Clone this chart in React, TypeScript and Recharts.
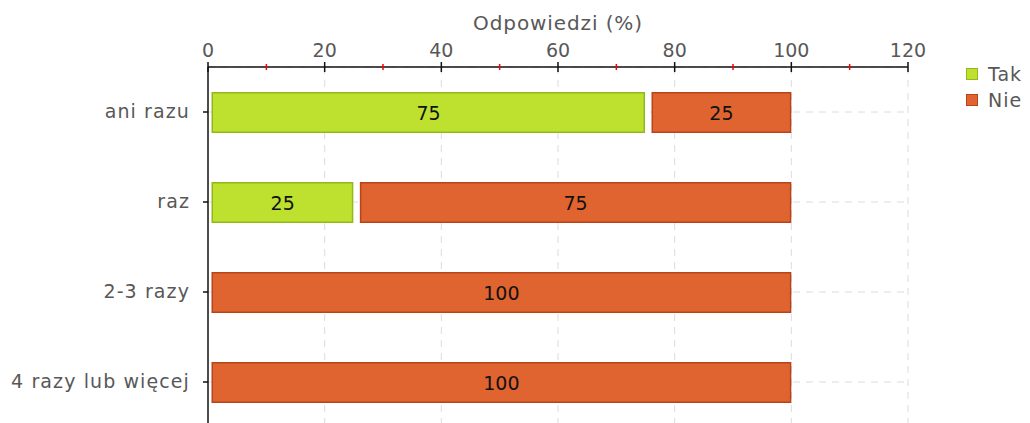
import React from 'react';
import {
  BarChart,
  Bar,
  XAxis,
  YAxis,
  CartesianGrid,
  Legend,
  LabelList
} from 'recharts';

// answers per category, in percent
const categories = ['ani razu', 'raz', '2-3 razy', '4 razy lub więcej'];
const takValues = [75, 25, 0, 0];
const nieValues = [25, 75, 100, 100];
const xTicks = [0, 10, 20, 30, 40, 50, 60, 70, 80, 90, 100, 110, 120];
const gridValues = [20, 40, 60, 80, 100, 120];

const TAK = { fill: '#bde12e', stroke: '#93b81a', name: 'Tak' };
const NIE = { fill: '#e0642f', stroke: '#b8441a', name: 'Nie' };
const TEXT = '#585858';
const FONT = '"DejaVu Sans", Verdana, sans-serif';

const data = categories.map((cat, i) => ({
  cat,
  tak: takValues[i],
  nie: nieValues[i]
}));

// each segment is drawn a little inset from its start so stacked pieces get a gap
const insetFor = (key: string, index: number) => {
  if (key === 'tak') return 3.5;
  return takValues[index] > 0 ? 6 : 3.5;
};

const makeShape = (key: string, color: { fill: string; stroke: string }) => (props: any) => {
  const { x, y, width, height, index } = props;
  if (!width || width <= 0) return null;
  const inset = insetFor(key, index);
  const right = key === 'tak' ? 0.5 : 0;
  return (
    <rect
      x={x + inset + 0.75}
      y={y + 0.75}
      width={Math.max(0, width - inset - right - 1.5)}
      height={height - 1.5}
      fill={color.fill}
      stroke={color.stroke}
      strokeWidth={1.5}
    />
  );
};

const makeLabel = (key: string) => (props: any) => {
  const { x, y, width, height, value, index } = props;
  if (!value) return null;
  const inset = insetFor(key, index);
  const cx = x + inset + (width - inset) / 2;
  return (
    <text
      x={cx}
      y={y + height / 2 + 7}
      textAnchor="middle"
      fontSize={19}
      fontFamily={FONT}
      fill="#111"
    >
      {value}
    </text>
  );
};

const XTick = (props: any) => {
  const { x, y, payload } = props;
  const v = payload.value;
  if (v % 20 !== 0) {
    return <line x1={x} x2={x} y1={y - 3} y2={y + 3} stroke="#ff0000" strokeWidth={1.5} />;
  }
  return (
    <g>
      <line x1={x} x2={x} y1={y - 5} y2={y + 5} stroke="#111" strokeWidth={1.5} />
      <text x={x} y={y - 10} textAnchor="middle" fontSize={19} fontFamily={FONT} fill={TEXT}>
        {v}
      </text>
    </g>
  );
};

const YTick = (props: any) => {
  const { x, y, payload } = props;
  return (
    <text
      x={x}
      y={y + 6}
      textAnchor="end"
      fontSize={19}
      fontFamily={FONT}
      fill={TEXT}
      letterSpacing={1.1}
    >
      {payload.value}
    </text>
  );
};

const AxisTitle = (props: any) => {
  const vb = props.viewBox;
  return (
    <text
      x={vb.x + vb.width / 2}
      y={30}
      textAnchor="middle"
      fontSize={20}
      fontFamily={FONT}
      fill={TEXT}
      letterSpacing={0.9}
    >
      Odpowiedzi (%)
    </text>
  );
};

const LegendBox = () => (
  <div style={{ fontFamily: FONT, fontSize: 19, color: TEXT, letterSpacing: 1 }}>
    {[TAK, NIE].map(s => (
      <div key={s.name} style={{ display: 'flex', alignItems: 'center', height: 26 }}>
        <span
          style={{
            display: 'inline-block',
            width: 10,
            height: 10,
            background: s.fill,
            border: `1.5px solid ${s.stroke}`,
            marginRight: 10
          }}
        />
        {s.name}
      </div>
    ))}
  </div>
);

export default function App() {
  return (
    <div
      style={{
        position: 'absolute',
        left: 0,
        top: 0,
        width: 1030,
        height: 423,
        overflow: 'hidden',
        background: '#fff'
      }}
    >
      <BarChart
        width={1030}
        height={430}
        data={data}
        layout="vertical"
        margin={{ top: 0, right: 52, bottom: 3, left: 0 }}
        barSize={41}
      >
        <CartesianGrid
          stroke="#dcdcdc"
          strokeDasharray="7 6"
          verticalValues={gridValues}
        />
        <XAxis
          type="number"
          orientation="top"
          domain={[0, 120]}
          ticks={xTicks}
          interval={0}
          height={67}
          tickSize={0}
          tickMargin={0}
          tickLine={false}
          axisLine={{ stroke: '#111', strokeWidth: 1.5 }}
          tick={<XTick />}
          label={<AxisTitle />}
        />
        <YAxis
          type="category"
          dataKey="cat"
          width={208}
          tickSize={5}
          tickMargin={13}
          axisLine={{ stroke: '#111', strokeWidth: 1.5 }}
          tickLine={{ stroke: '#111', strokeWidth: 1.5 }}
          tick={<YTick />}
        />
        <Legend
          layout="vertical"
          align="right"
          verticalAlign="top"
          content={<LegendBox />}
          wrapperStyle={{ top: 61, left: 966, width: 70 }}
        />
        <Bar
          dataKey="tak"
          name="Tak"
          stackId="a"
          fill={TAK.fill}
          shape={makeShape('tak', TAK)}
          isAnimationActive={false}
        >
          <LabelList dataKey="tak" content={makeLabel('tak')} />
        </Bar>
        <Bar
          dataKey="nie"
          name="Nie"
          stackId="a"
          fill={NIE.fill}
          shape={makeShape('nie', NIE)}
          isAnimationActive={false}
        >
          <LabelList dataKey="nie" content={makeLabel('nie')} />
        </Bar>
      </BarChart>
    </div>
  );
}
